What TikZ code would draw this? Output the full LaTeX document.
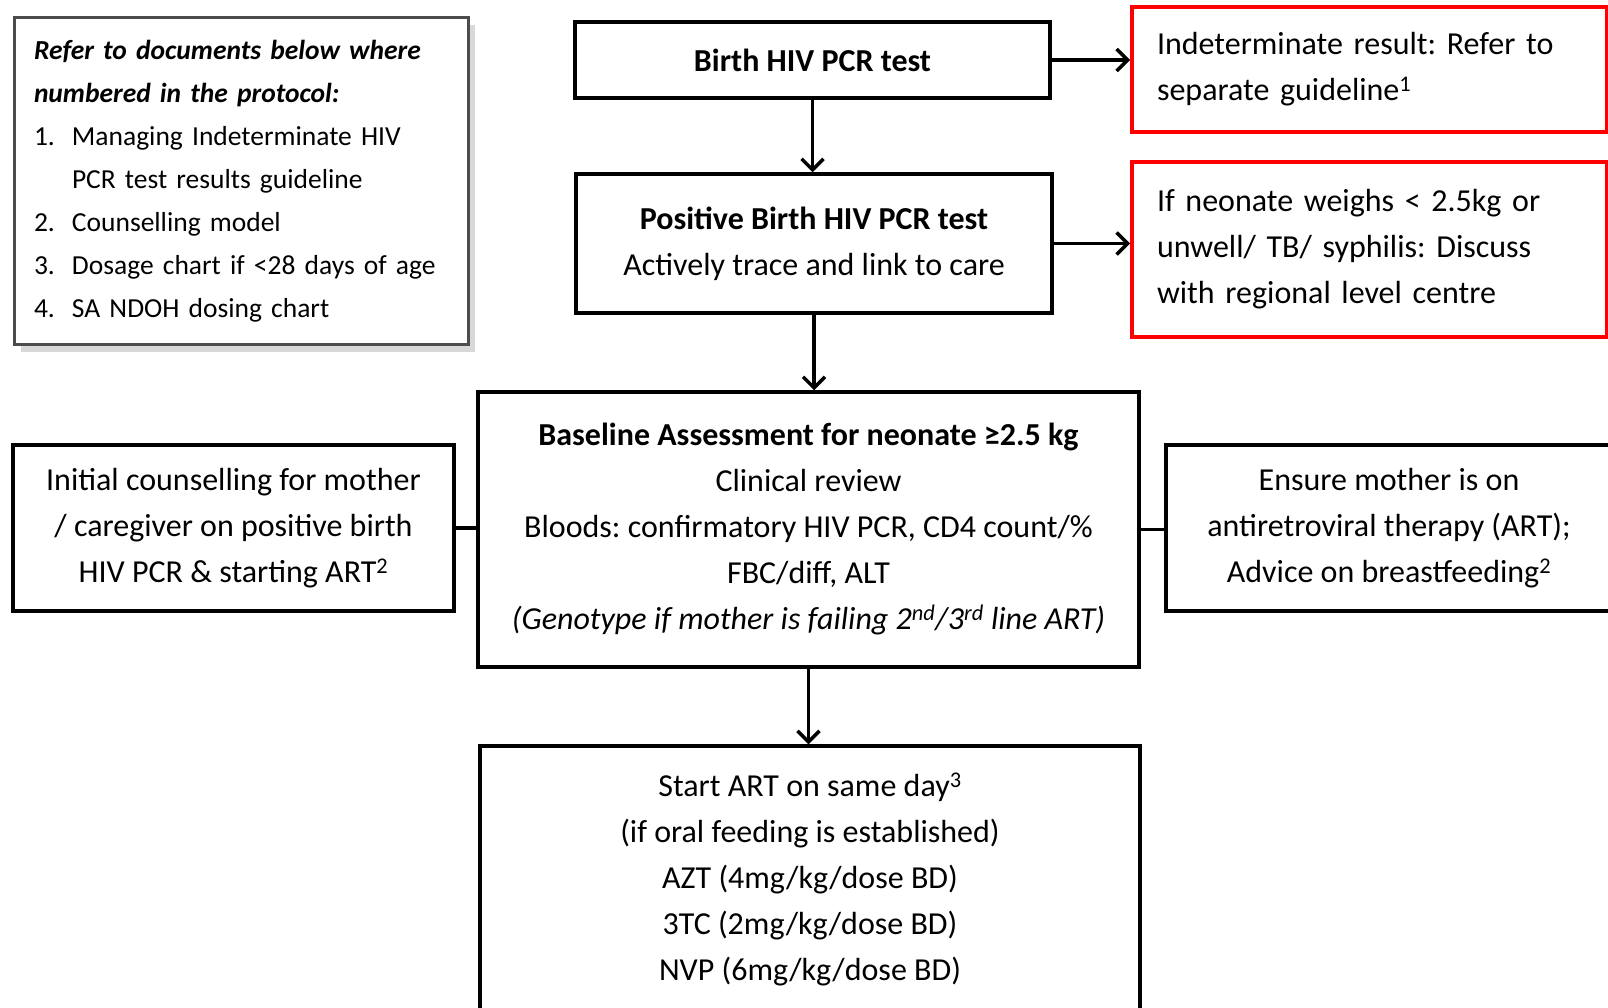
\documentclass[tikz,border=0pt]{standalone}
\usepackage{fontspec}
\setmainfont{Carlito}
\usetikzlibrary{arrows.meta,shadows}
\frenchspacing

\begin{document}
\begin{tikzpicture}[x=1pt, y=-1pt, >={Straight Barb[length=11pt,width=22pt]},
  every node/.style={font=\fontsize{32}{46}\selectfont, inner sep=0pt},
  flowbox/.style={draw, line width=3.5pt, fill=white, align=center},
  redbox/.style={draw=red, line width=4pt, fill=white, align=left, inner xsep=25pt},
  legendbox/.style={draw=black!70, line width=3pt, fill=white, align=left, inner xsep=20pt,
    font=\fontsize{27.5}{43}\selectfont,
    drop shadow={shadow xshift=7pt, shadow yshift=-7pt, fill=black!30}},
  link/.style={line width=3.5pt}]
  \useasboundingbox (0,0) rectangle (1608,1007);

  % legend
  \node[legendbox, minimum width=454pt, minimum height=327pt, text width=414pt] (refs) at (241,181)
    {\textbf{\textit{Refer to documents below where}}\\
     \textbf{\textit{numbered in the protocol:}}\\
     \makebox[38pt][l]{1.}Managing Indeterminate HIV\\
     \hspace*{38pt}PCR test results guideline\\
     \makebox[38pt][l]{2.}Counselling model\\
     \makebox[38pt][l]{3.}Dosage chart if <28 days of age\\
     \makebox[38pt][l]{4.}SA NDOH dosing chart};

  % main column
  \node[flowbox, minimum width=475pt, minimum height=76pt] (birth) at (812.5,60)
    {\textbf{Birth HIV PCR test}};
  \node[flowbox, minimum width=476pt, minimum height=139pt] (pos) at (814,243.5)
    {\textbf{Positive Birth HIV PCR test}\\Actively trace and link to care};
  \node[flowbox, minimum width=661pt, minimum height=275pt] (base) at (808.5,529.5)
    {\textbf{Baseline Assessment for neonate ≥2.5 kg}\\
     Clinical review\\
     Bloods: confirmatory HIV PCR, CD4 count/\%\\
     FBC/diff, ALT\\
     \textit{(Genotype if mother is failing 2\textsuperscript{nd}/3\textsuperscript{rd} line ART)}};
  \node[flowbox, minimum width=660pt, minimum height=266pt] (start) at (810,879)
    {Start ART on same day\textsuperscript{3}\\
     (if oral feeding is established)\\
     AZT (4mg/kg/dose BD)\\
     3TC (2mg/kg/dose BD)\\
     NVP (6mg/kg/dose BD)};

  % side boxes
  \node[redbox, minimum width=475pt, minimum height=125pt, text width=425pt] (indet) at (1369.5,69.5)
    {Indeterminate result: Refer to\\separate guideline\textsuperscript{1}};
  \node[redbox, minimum width=475pt, minimum height=175pt, text width=425pt] (small) at (1369.5,249.5)
    {If neonate weighs < 2.5kg or\\
     unwell/ TB/ syphilis: Discuss\\
     with regional level centre};
  \node[flowbox, minimum width=441pt, minimum height=166pt] (couns) at (233.5,528)
    {Initial counselling for mother\\
     / caregiver on positive birth\\
     HIV PCR \& starting ART\textsuperscript{2}};
  \node[flowbox, minimum width=446pt, minimum height=166pt] (mother) at (1389,528)
    {Ensure mother is on\\
     antiretroviral therapy (ART);\\
     Advice on breastfeeding\textsuperscript{2}};

  % connectors
  \draw[link, ->] (birth.south) -- (birth.south |- pos.north);
  \draw[link, ->] (pos.south) -- (pos.south |- base.north);
  \draw[link, ->] (base.south) -- (base.south |- start.north);
  \draw[link, ->] (birth.east) -- (birth.east -| indet.west);
  \draw[link, ->] (pos.east) -- (pos.east -| small.west);
  \draw[link] (couns.east) -- (couns.east -| base.west);
  \draw[link] (base.east) -- (base.east -| mother.west);
\end{tikzpicture}
\end{document}
